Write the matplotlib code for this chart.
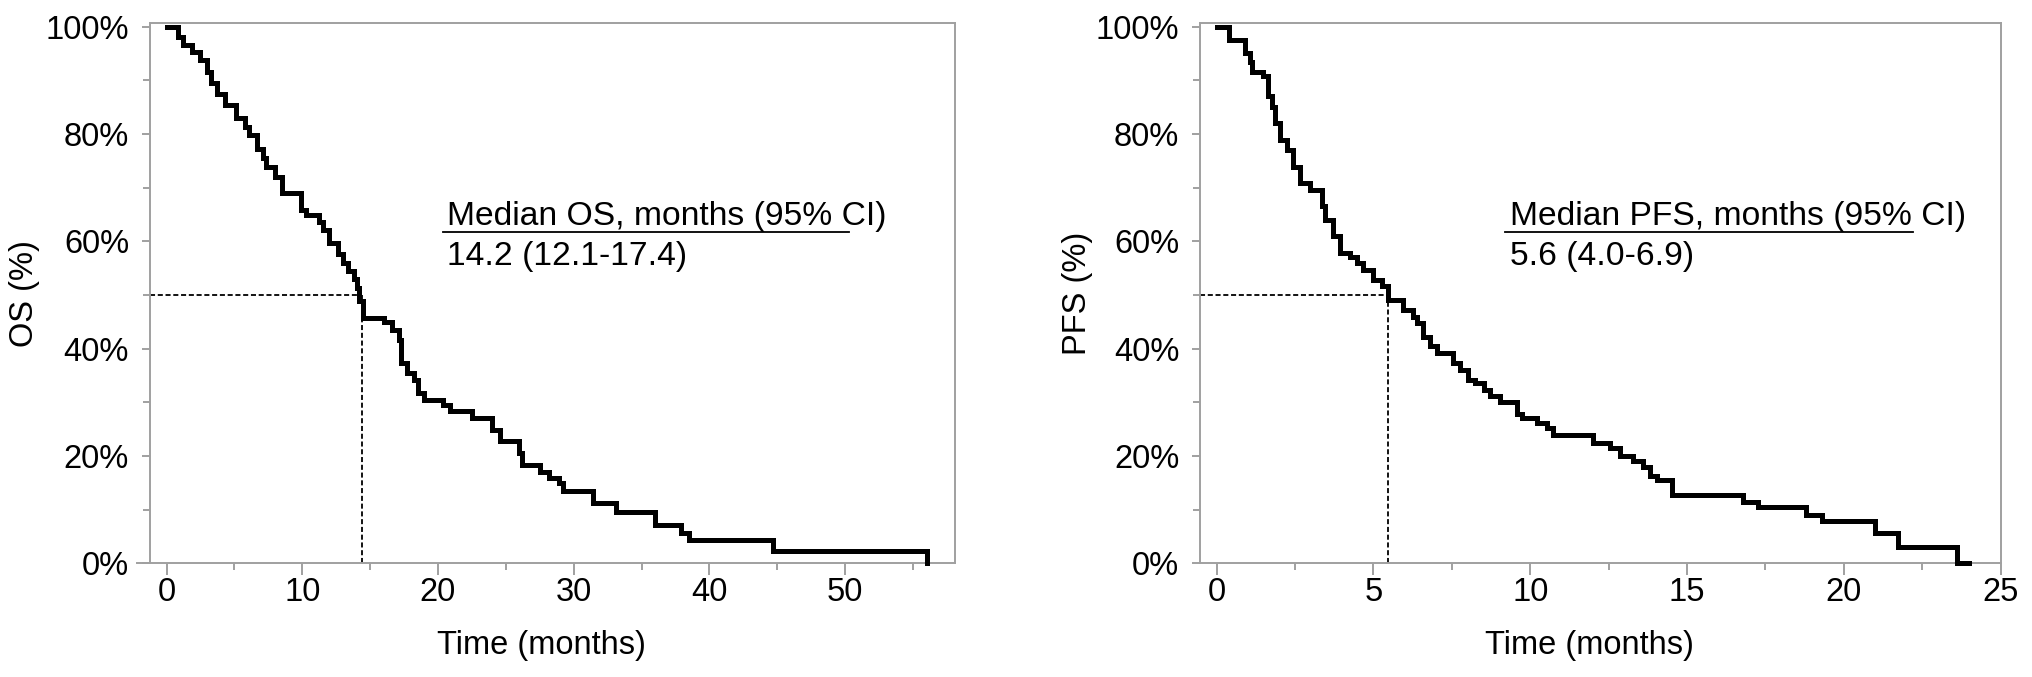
import numpy as np
import matplotlib
matplotlib.use("Agg")
import matplotlib.pyplot as plt
from matplotlib.ticker import MultipleLocator, FuncFormatter

plt.rcParams['font.family'] = ['Liberation Sans', 'DejaVu Sans']

# OS curve: time of each drop (months) and level after it (%)
os_time = [0.0, 0.85, 1.2, 1.9, 2.5, 3.0, 3.3, 3.7, 4.3, 5.1, 5.8, 6.1, 6.7, 7.1, 7.3,
           8.0, 8.5, 9.9, 10.3, 11.2, 11.5, 12.0, 12.6, 13.0, 13.4, 13.8, 14.0, 14.2,
           14.5, 16.0, 16.6, 17.1, 17.3, 17.7, 18.2, 18.5, 19.0, 20.4, 20.9, 22.5, 24.0,
           24.6, 26.0, 26.2, 27.5, 28.2, 28.9, 29.2, 31.4, 33.1, 36.0, 37.9, 38.5, 44.7, 56.0]
os_surv = [100, 98.0, 96.5, 95.3, 93.8, 91.5, 89.5, 87.5, 85.3, 83.0, 81.3, 79.8, 77.2, 75.5, 73.8,
           72.0, 69.0, 65.8, 64.8, 63.5, 62.0, 59.7, 57.6, 55.9, 54.5, 53.0, 51.2, 48.9,
           45.7, 44.9, 43.5, 41.6, 37.3, 35.4, 34.2, 31.7, 30.4, 29.5, 28.3, 27.0, 24.9,
           22.7, 20.5, 18.3, 17.0, 15.9, 14.9, 13.5, 11.2, 9.6, 7.1, 5.6, 4.4, 2.2, 0]

# PFS curve
pfs_time = [0.0, 0.40, 0.90, 1.05, 1.13, 1.49, 1.65, 1.75, 1.86, 2.02, 2.23, 2.44, 2.66, 2.98,
            3.35, 3.45, 3.72, 3.93, 4.25, 4.46, 4.68, 4.99, 5.26, 5.48, 5.95, 6.27, 6.38,
            6.59, 6.80, 7.02, 7.55, 7.76, 8.03, 8.24, 8.51, 8.72, 9.04, 9.57, 9.73, 10.21,
            10.53, 10.74, 12.01, 12.55, 12.86, 13.29, 13.61, 13.82, 14.03, 14.51, 16.78,
            17.25, 18.8, 19.3, 21.0, 21.74, 23.6, 24.0]
pfs_surv = [100, 97.5, 95.0, 93.3, 91.6, 90.7, 87.0, 85.1, 82.0, 78.9, 77.0, 73.9, 70.8, 69.6,
            66.5, 64.0, 60.9, 57.8, 57.1, 55.9, 54.7, 52.8, 51.6, 49.1, 47.2, 45.9, 44.7,
            42.2, 40.4, 39.1, 37.3, 36.0, 34.2, 33.5, 32.3, 31.1, 30.1, 27.9, 27.0, 26.1,
            25.2, 23.9, 22.4, 21.4, 19.9, 19.0, 18.0, 16.2, 15.5, 12.7, 11.5,
            10.5, 9.0, 7.8, 5.6, 3.1, 0.0, 0.0]

# where the dashed median guides hit the curve
os_median_x = 14.4
pfs_median_x = 5.47

GREY = '#a0a0a0'
FS = 23.5

fig = plt.figure(figsize=(20.32, 6.77), dpi=100)
ax1 = fig.add_axes([136.7 / 2032, 113.7 / 677, 818.3 / 2032, 540 / 677])
ax2 = fig.add_axes([1200 / 2032, 113.7 / 677, 800.7 / 2032, 540 / 677])


def style(ax, xlim, left_at, xmajor, xminor, ylab, ylab_x, xlab_x):
    ax.set_xlim(*xlim)
    ax.set_ylim(0, 100.6)
    for s in ax.spines.values():
        s.set_color(GREY)
        s.set_linewidth(1.4)
    ax.spines['left'].set_position(('data', left_at))
    ax.spines['top'].set_bounds(left_at, xlim[1])
    ax.xaxis.set_major_locator(MultipleLocator(xmajor))
    ax.xaxis.set_minor_locator(MultipleLocator(xminor))
    ax.yaxis.set_major_locator(MultipleLocator(20))
    ax.yaxis.set_minor_locator(MultipleLocator(10))
    ax.yaxis.set_major_formatter(FuncFormatter(lambda v, p: '%d%%' % v))
    ax.tick_params(axis='x', which='major', length=8.6, width=1.4, color=GREY,
                   labelsize=FS, pad=1.5)
    ax.tick_params(axis='x', which='minor', length=5, width=1.4, color=GREY)
    ax.tick_params(axis='y', which='major', length=6, width=1.4, color=GREY,
                   labelsize=FS, pad=9)
    ax.tick_params(axis='y', which='minor', length=4.8, width=1.4, color=GREY)
    ax.set_ylabel(ylab, fontsize=FS, va='center')
    ax.yaxis.set_label_coords(ylab_x, 0.5)
    ax.set_xlabel('Time (months)', fontsize=FS, va='center')
    ax.xaxis.set_label_coords(xlab_x, -0.152)


style(ax1, (-2.2, 58.1), -1.23, 10, 5, 'OS (%)', -0.1377, 0.495)
style(ax2, (-0.53, 25), -0.53, 5, 2.5, 'PFS (%)', -0.1524, 0.486)

dash = (0, (2.8, 1.5))
for ax, t, s, med, left_at in [(ax1, os_time, os_surv, os_median_x, -1.23),
                               (ax2, pfs_time, pfs_surv, pfs_median_x, -0.53)]:
    ax.plot([left_at, med], [50, 50], color='black', lw=1.3, linestyle=dash)
    ax.plot([med, med], [0, 50], color='black', lw=1.3, linestyle=dash)
    ax.step(t, s, where='post', color='black', lw=3.6, clip_on=False,
            solid_joinstyle='miter', zorder=5)

# median annotations
AFS = 24.2
ax1.text(20.7, 63.0, 'Median OS, months (95% CI)', fontsize=AFS, va='baseline')
ax1.plot([20.4, 50.3], [61.8, 61.8], color='black', lw=1.3)
ax1.text(20.7, 55.6, '14.2 (12.1-17.4)', fontsize=AFS, va='baseline')

ax2.text(9.36, 63.0, 'Median PFS, months (95% CI)', fontsize=AFS, va='baseline')
ax2.plot([9.2, 22.2], [61.8, 61.8], color='black', lw=1.3)
ax2.text(9.36, 55.6, '5.6 (4.0-6.9)', fontsize=AFS, va='baseline')

fig.savefig('out.png', dpi=100)
